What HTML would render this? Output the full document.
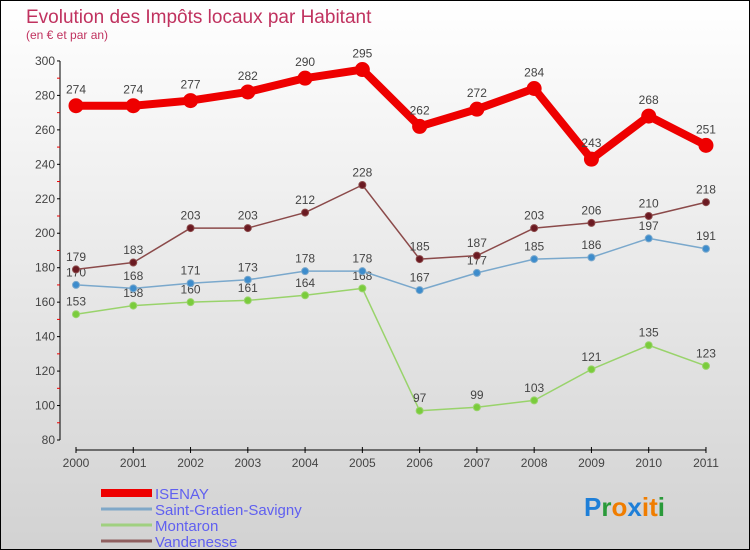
<!DOCTYPE html>
<html><head><meta charset="utf-8"><style>
body{margin:0}
#c{width:750px;height:550px;position:relative;box-sizing:border-box;border:1px solid #000;background:linear-gradient(#fff,#d2d2d2);font-family:"Liberation Sans",sans-serif;overflow:hidden}
</style></head><body>
<div id="c">
<svg id="s" width="748" height="548"></svg>
</div>
<script>
const years=["2000","2001","2002","2003","2004","2005","2006","2007","2008","2009","2010","2011"];
const isenay=[274,274,277,282,290,295,262,272,284,243,268,251];
const saint=[170,168,171,173,178,178,167,177,185,186,197,191];
const montaron=[153,158,160,161,164,168,97,99,103,121,135,123];
const vandenesse=[179,183,203,203,212,228,185,187,203,206,210,218];
const yTicks=[80,100,120,140,160,180,200,220,240,260,280,300];
const seriesNames=["ISENAY","Saint-Gratien-Savigny","Montaron","Vandenesse"];
const NS="http://www.w3.org/2000/svg";
const s=document.getElementById('s');
function X(i){return 75+i*57.27;}
function Y(v){return 439-(v-80)*1.723;}
function el(t,a,p){const e=document.createElementNS(NS,t);for(const k in a)e.setAttribute(k,a[k]);(p||s).appendChild(e);return e;}
function tx(x,y,str,a){const e=el('text',Object.assign({x:x,y:y},a));e.textContent=str;return e;}
let t=tx(25,22,"Evolution des Impôts locaux par Habitant",{fill:"#c0325f","font-size":19});

t=tx(25,38,"(en € et par an)",{fill:"#c0325f","font-size":12});

// y axis
let ax=el('line',{x1:59,y1:Y(300),x2:59,y2:Y(80),stroke:"#000"});

yTicks.forEach((v,i)=>{
 el('line',{x1:56,y1:Y(v),x2:59,y2:Y(v),stroke:"#000"});
 if(i<yTicks.length-1) el('line',{x1:56,y1:Y(v+10),x2:59,y2:Y(v+10),stroke:"#e00"});
 let l=tx(54,Y(v)+4,v,{"text-anchor":"end","font-size":12,fill:"#444"});
 
});
ax=el('line',{x1:X(0),y1:449,x2:X(11),y2:449,stroke:"#000"});

years.forEach((y,i)=>{
 el('line',{x1:X(i),y1:446,x2:X(i),y2:452,stroke:"#000"});
 let l=tx(X(i),466,y,{"text-anchor":"middle","font-size":12,fill:"#444"});
 
});
function series(data,color,dot,w,r,name,fs){
 const g=el('g',{});
 
 el('polyline',{points:data.map((v,i)=>X(i)+","+Y(v)).join(" "),fill:"none",stroke:color,"stroke-width":w,"stroke-linejoin":"round"},g);
 data.forEach((v,i)=>{
  const c=el('circle',{cx:X(i),cy:Y(v),r:r,fill:dot,stroke:color,"stroke-width":1},g);
  
  tx(X(i),Y(v)-(r+5),v,{"text-anchor":"middle","font-size":fs,fill:"#444"},g);
 });
}
series(montaron,"#99d36b","#7acc3c",1.5,3.5,"series-montaron",12);
series(saint,"#7aa8cc","#3d8ccc",1.5,3.5,"series-saint-gratien",12);
series(vandenesse,"#8b4a4a","#6b1a22",1.5,3.5,"series-vandenesse",12);
series(isenay,"#ee0000","#ee0000",8,7,"series-isenay",12);
// legend
const lc=["#ee0000","#80a8c8","#a0d080","#906060"],lw=[8,3,3,3];
seriesNames.forEach((n,i)=>{
 const y=492+i*16;
 const g=el('g',{});
 
 el('line',{x1:100,y1:y,x2:151,y2:y,stroke:lc[i],"stroke-width":lw[i]},g);
 tx(154,y+6,n,{"font-size":15,fill:"#6060f0"},g);
});
// logo
const lg=el('text',{x:583,y:515,"font-size":26,"font-weight":"bold"});

[["P","#1e7fd8"],["r","#2a9a3a"],["o","#f07d00"],["x","#1e7fd8"],["i","#f07d00"],["t","#f07d00"],["i","#2a9a3a"]].forEach(([c,f])=>{const sp=el('tspan',{fill:f},lg);sp.textContent=c;});
</script>
</body></html>
